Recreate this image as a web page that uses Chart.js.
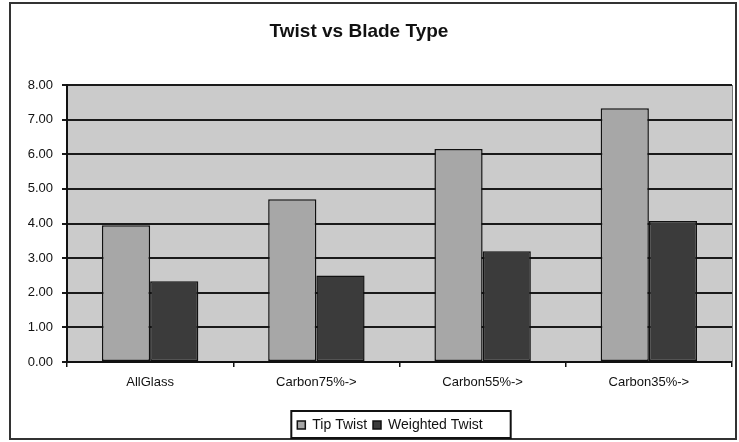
<!DOCTYPE html>
<html>
<head>
<meta charset="utf-8">
<script src="https://cdn.jsdelivr.net/npm/chart.js@4/dist/chart.umd.min.js"></script>
<style>
  html, body { margin: 0; padding: 0; background: #fff; }
  #wrap { width: 739px; height: 442px; }
</style>
</head>
<body>
<div id="wrap"><canvas id="twistChart" width="739" height="442"></canvas></div>
<script>
// ---------- DATA ----------
const bladeTypes = ['AllGlass', 'Carbon75%->', 'Carbon55%->', 'Carbon35%->'];
const tipTwist = [3.95, 4.70, 6.15, 7.33];
const weightedTwist = [2.33, 2.50, 3.20, 4.07];
const chartTitle = 'Twist vs Blade Type';

const FONT = "'Liberation Sans', Arial, sans-serif";

// frame, plot background, title and legend border
const decor = {
    id: 'decor',
    beforeDraw(chart) {
        const { ctx, chartArea: a } = chart;
        ctx.save();
        ctx.fillStyle = '#fff';
        ctx.fillRect(0, 0, chart.width, chart.height);
        ctx.fillStyle = '#cbcbcb';
        ctx.fillRect(a.left, a.top, a.right - a.left, a.bottom - a.top);
        ctx.restore();
    },
    afterLayout(chart) {
        // legend sits a bit right of centre in the original
        chart.legend.left += 19;
        chart.legend.right += 19;
    },
    afterDraw(chart) {
        const { ctx, chartArea: a } = chart;
        ctx.save();
        // outer frame
        ctx.strokeStyle = '#333';
        ctx.lineWidth = 2;
        ctx.strokeRect(10, 3, 726, 436);
        // right edge of plot area
        ctx.strokeStyle = '#777';
        ctx.lineWidth = 1;
        ctx.beginPath();
        ctx.moveTo(a.right + 0.5, a.top);
        ctx.lineTo(a.right + 0.5, a.bottom);
        ctx.stroke();
        // title
        ctx.fillStyle = '#111';
        ctx.font = 'bold 19px ' + FONT;
        ctx.textAlign = 'center';
        ctx.textBaseline = 'middle';
        ctx.fillText(chartTitle, 359, 32);
        // legend border
        const boxes = chart.legend.legendHitBoxes;
        if (boxes && boxes.length) {
            const l = Math.min(...boxes.map(b => b.left)) - 6;
            const r = Math.max(...boxes.map(b => b.left + b.width)) + 28;
            const t = Math.min(...boxes.map(b => b.top)) - 7;
            const bt = Math.max(...boxes.map(b => b.top + b.height)) + 6;
            ctx.strokeStyle = '#111';
            ctx.lineWidth = 2;
            ctx.strokeRect(l, t, r - l, bt - t);
        }
        ctx.restore();
    }
};

const ctx = document.getElementById('twistChart').getContext('2d');
new Chart(ctx, {
    type: 'bar',
    data: {
        labels: bladeTypes,
        datasets: [
            {
                label: 'Tip Twist',
                data: tipTwist,
                backgroundColor: '#a7a7a7',
                borderColor: '#111',
                borderWidth: 1.5,
                borderSkipped: false,
                categoryPercentage: 0.58,
                barPercentage: 1.0
            },
            {
                label: 'Weighted Twist',
                data: weightedTwist,
                backgroundColor: '#3b3b3b',
                borderColor: '#111',
                borderWidth: 1.5,
                borderSkipped: false,
                categoryPercentage: 0.58,
                barPercentage: 1.0
            }
        ]
    },
    options: {
        responsive: false,
        animation: false,
        devicePixelRatio: 1,
        layout: { padding: { left: 10, right: 7, top: 85, bottom: 0 } },
        plugins: {
            title: { display: false },
            tooltip: { enabled: false },
            legend: {
                position: 'bottom',
                labels: {
                    color: '#111',
                    font: { family: FONT, size: 14 },
                    boxWidth: 8,
                    boxHeight: 8,
                    padding: 6,
                    generateLabels(chart) {
                        return chart.data.datasets.map((ds, i) => ({
                            text: ds.label,
                            fillStyle: ds.backgroundColor,
                            strokeStyle: '#111',
                            lineWidth: 1.5,
                            fontColor: '#111',
                            datasetIndex: i
                        }));
                    }
                }
            }
        },
        scales: {
            x: {
                afterFit(scale) { scale.height = 50; },
                grid: {
                    offset: true,
                    drawOnChartArea: false,
                    drawTicks: true,
                    tickLength: 5,
                    color: '#111',
                    lineWidth: 1.5
                },
                border: { display: true, color: '#111', width: 2 },
                ticks: {
                    color: '#111',
                    font: { family: FONT, size: 13 },
                    padding: 8,
                    maxRotation: 0
                }
            },
            y: {
                min: 0,
                max: 8,
                afterFit(scale) { scale.width = 57; },
                grid: {
                    color: '#1a1a1a',
                    lineWidth: 2,
                    tickLength: 5
                },
                border: { display: true, color: '#111', width: 2 },
                ticks: {
                    stepSize: 1,
                    color: '#111',
                    font: { family: FONT, size: 13 },
                    padding: 9,
                    callback: v => v.toFixed(2)
                }
            }
        }
    },
    plugins: [decor]
});
</script>
</body>
</html>
